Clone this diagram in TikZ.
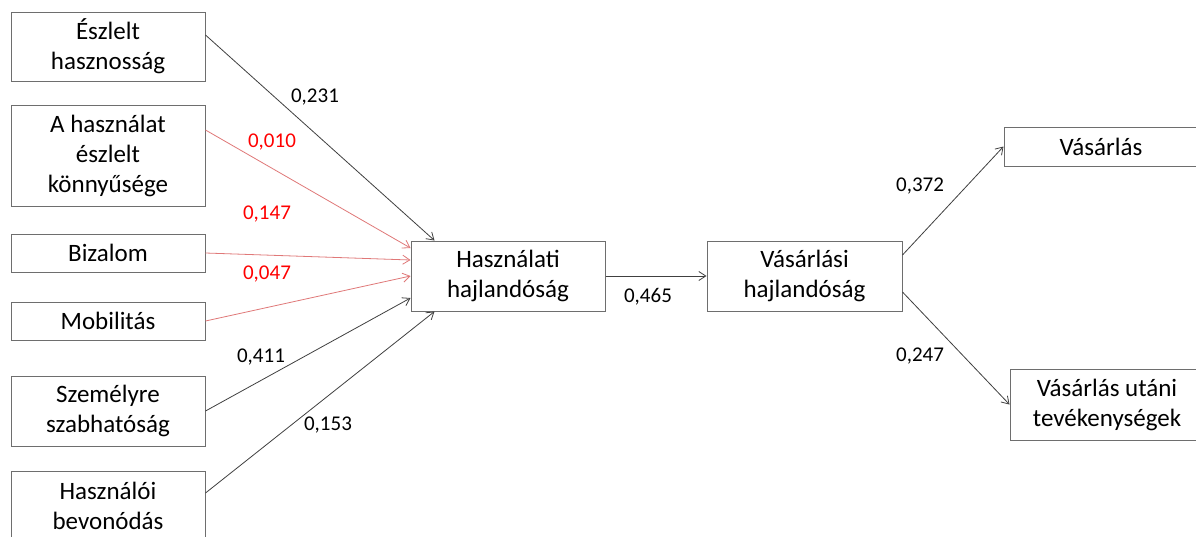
\documentclass[tikz,border=0pt]{standalone}
\usepackage{fontspec}
\setmainfont{Carlito}
\usetikzlibrary{arrows.meta}
\definecolor{boxgray}{HTML}{6E6E6E}
\definecolor{arrgray}{HTML}{404040}
\definecolor{arrred}{HTML}{E07878}
\definecolor{lblred}{HTML}{FF0000}
\begin{document}
\begin{tikzpicture}[x=1pt,y=-1pt,
  box/.style={draw=boxgray,line width=1pt,fill=white,minimum width=194pt,align=center,inner sep=0pt,
    font=\fontsize{25}{30}\selectfont},
  conn/.style={draw=arrgray,line width=0.8pt,-{Straight Barb[length=7pt,width=9pt,line width=0.8pt]}},
  rconn/.style={conn,draw=arrred},
  lbl/.style={font=\fontsize{21}{25}\selectfont,inner sep=0pt},
  rlbl/.style={lbl,text=lblred}]
\useasboundingbox (0,0) rectangle (1196,536);
\clip (0,0) rectangle (1196,536);
\fill[white] (0,0) rectangle (1196,536);
% left boxes
\node[box,minimum height=69pt] (b1) at (108,46.5) {Észlelt\\hasznosság};
\node[box,minimum height=101pt] (b2) at (108,155.5) {A használat\\észlelt\\könnyűsége};
\node[box,minimum height=38pt] (b3) at (108,253) {Bizalom};
\node[box,minimum height=38pt] (b4) at (108,321) {Mobilitás};
\node[box,minimum height=70pt] (b5) at (108,411) {Személyre\\szabhatóság};
\node[box,minimum height=70pt] (b6) at (108,506) {Használói\\bevonódás};
% centre boxes
\node[box,minimum height=70pt] (hh) at (508,276) {Használati\\hajlandóság};
\node[box,minimum height=70pt,minimum width=195pt] (vh) at (804.5,276) {Vásárlási\\hajlandóság};
% right boxes
\node[box,minimum height=39pt] (v1) at (1101,146.5) {Vásárlás};
\node[box,minimum height=71pt] (v2) at (1107,404.5) {Vásárlás utáni\\tevékenységek};
% connectors
\draw[conn] ([yshift=11.5pt]b1.east) -- ([xshift=24pt]hh.north west);
\draw[rconn] ([yshift=25.5pt]b2.east) -- ([yshift=28pt]hh.west);
\draw[rconn] (b3.east) -- ([yshift=16pt]hh.west);
\draw[rconn] (b4.east) -- (hh.west);
\draw[conn] (b5.east) -- ([yshift=-22pt]hh.west);
\draw[conn] ([yshift=13pt]b6.east) -- ([xshift=24pt]hh.south west);
\draw[conn] (hh.east) -- (vh.west);
\draw[conn] ([yshift=21pt]vh.east) -- (v1.west);
\draw[conn] ([yshift=-16pt]vh.east) -- (v2.west);
% labels
\node[lbl] (l1) at (315,97) {0,231};
\node[rlbl] (l2) at (272,142) {0,010};
\node[rlbl] (l3) at (267,214) {0,147};
\node[rlbl] (l4) at (267,274) {0,047};
\node[lbl] (l5) at (261,357) {0,411};
\node[lbl] (l6) at (328,425) {0,153};
\node[lbl] (l7) at (648,297) {0,465};
\node[lbl] (l8) at (920,186) {0,372};
\node[lbl] (l9) at (920,356) {0,247};
\end{tikzpicture}
\end{document}
